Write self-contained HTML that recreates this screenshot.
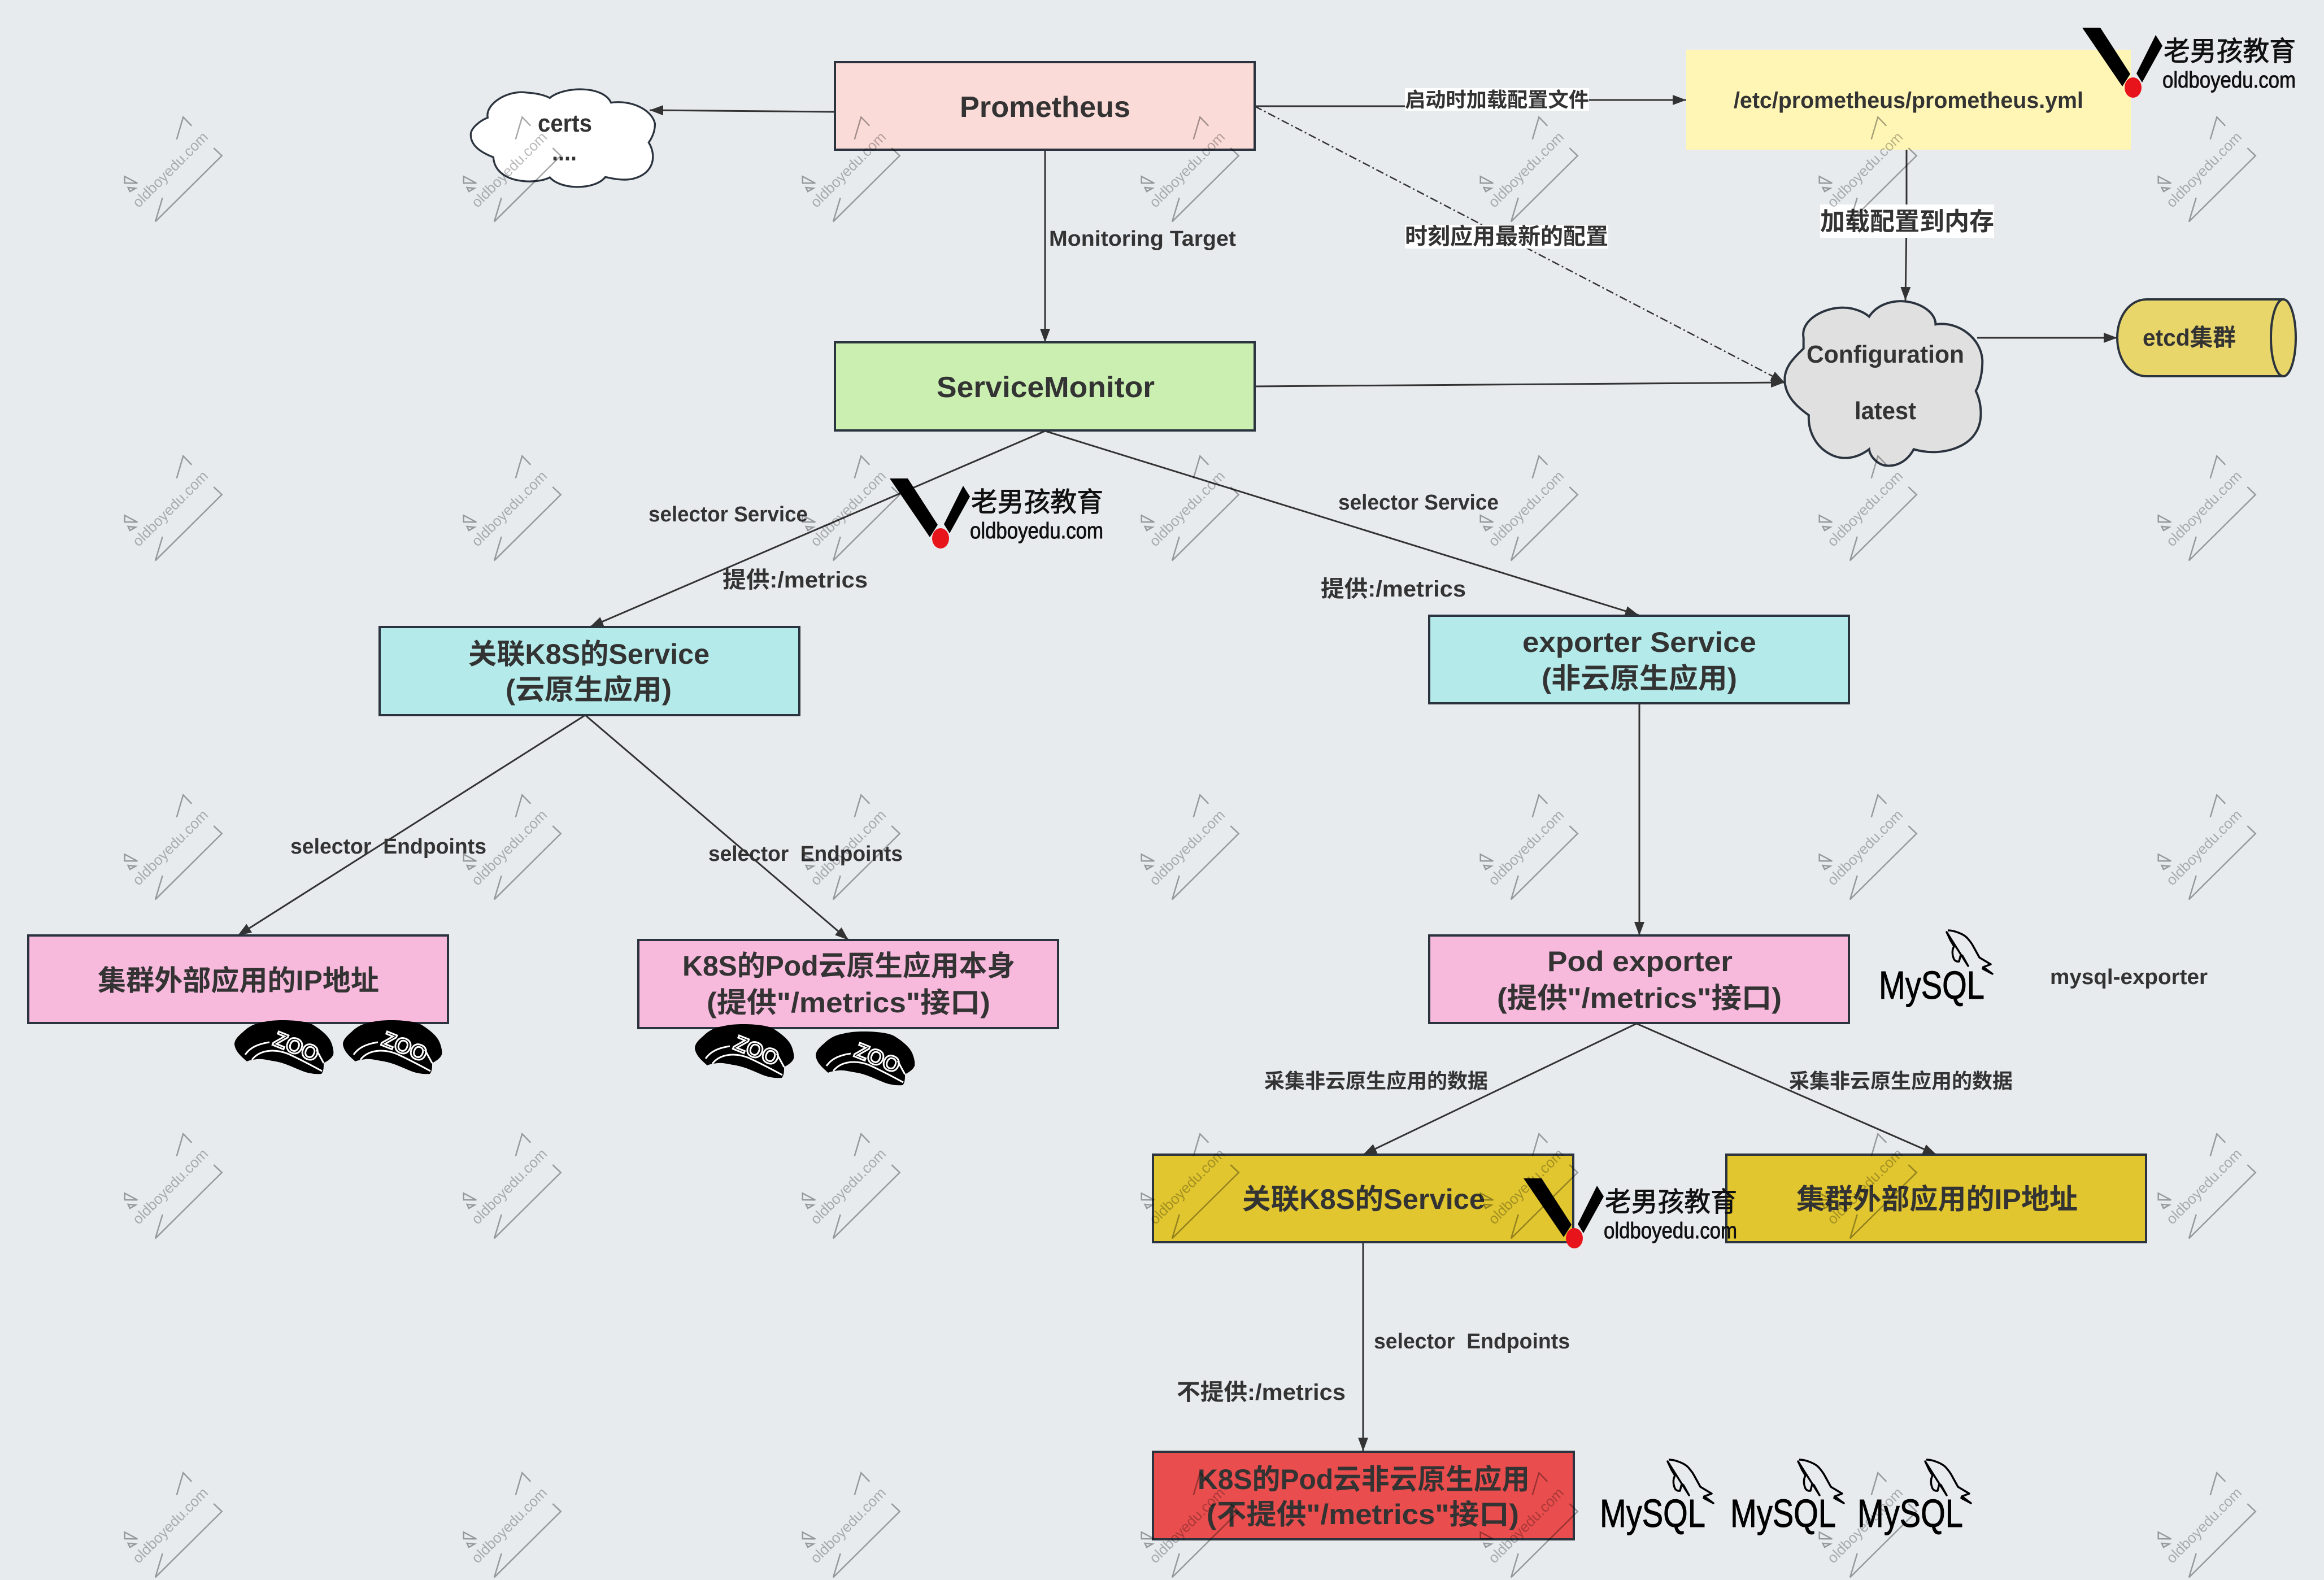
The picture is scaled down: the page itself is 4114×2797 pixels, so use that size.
<!DOCTYPE html>
<html><head><meta charset="utf-8"><title>Prometheus Diagram</title>
<style>
html,body{margin:0;padding:0;background:#e7ebee}
svg{display:block}
text{font-family:"Liberation Sans","Noto Sans CJK SC",sans-serif;font-weight:700;fill:#333}
.b{stroke:#2b343e;stroke-width:4}
.c{stroke:#333;stroke-width:3;fill:none}
.w{font-weight:400;font-size:26px;fill:#000;fill-opacity:.27;text-anchor:middle}
.lg{font-weight:400;fill:#111;stroke:#111;stroke-width:.9}
.my{font-weight:400;font-size:70px;fill:#000;stroke:#000;stroke-width:1}
</style></head><body>
<svg xmlns="http://www.w3.org/2000/svg" width="4114" height="2797" viewBox="0 0 4114 2797">
<defs>
<marker id="a" markerUnits="userSpaceOnUse" markerWidth="26" markerHeight="20" refX="24" refY="10" orient="auto"><path d="M0 1L24 10L0 19Z" fill="#333"/></marker>
<g id="wm" fill="none" stroke="#000" stroke-opacity=".35" stroke-width="2.5">
<path d="M312.7 246.7L324.3 207.3L339.3 222.7"/>
<path d="M378.3 262L392.7 275.7L275 392.3L287.7 350"/>
<path d="M220.7 312.3L243.3 324.3L220.7 324Z"/>
<path d="M226.7 332L240 333.3L230 339Z"/>
</g>
<g id="logo">
<path d="M0 0H32L85 82L71 104Z" fill="#000"/>
<path d="M130 13L142 32L106 97L96 81Z" fill="#000"/>
<ellipse cx="90" cy="106" rx="15" ry="18" fill="#e8141c"/>
</g>
<g id="hat">
<path d="M85 0C110 0 130 3 139 8C158 20 168 30 172 41C175 50 176 56 175 61C172 68 165 72 158 76C158 84 158 90 154 95C142 96 132 94 123 91C105 84 90 76 73 73C60 71 50 68 40 69C32 70 26 71 22 73C12 64 2 56 0 43C0 34 8 27 15 21C25 11 36 6 48 4C60 1 72 0 85 0Z" fill="#000"/>
<path d="M19 61C28 48 42 42 62 39" fill="none" stroke="#fff" stroke-width="3"/>
<path d="M31 70C45 52 72 50 96 60C118 70 140 82 155 90" fill="none" stroke="#fff" stroke-width="3"/>
<path d="M145 52L158 76" fill="none" stroke="#fff" stroke-width="3"/>
</g>
<path id="dol" d="M2 2Q10 2 18 5Q30 9 36 15Q44 24 47 30L58 50L78 62L65 67L81 79L64 70L65 66M38 65L28 47L25 45L22 57Q16 58 13 53Q9 44 11 35L13 30L7 20L0 5Z" fill="none" stroke="#000" stroke-width="3.5" stroke-linejoin="round"/>
</defs>
<rect width="4114" height="2797" fill="#e7ebee"/>

<!-- connectors -->
<path class="c" d="M1478 198L1150 195" marker-end="url(#a)"/>
<path class="c" d="M1850 265V606" marker-end="url(#a)"/>
<path class="c" d="M2221 188H2610V177H2985" marker-end="url(#a)"/>
<path d="M2221 188L3159 677" fill="none" stroke="#333" stroke-width="2.5" stroke-dasharray="14 5 3 5" marker-end="url(#a)"/>
<path class="c" d="M2221 684L3159 677" marker-end="url(#a)"/>
<path class="c" d="M3375 265V395L3373 532" marker-end="url(#a)"/>
<path class="c" d="M3500 598H3748" marker-end="url(#a)"/>
<path class="c" d="M1850 763L1044 1110" marker-end="url(#a)"/>
<path class="c" d="M1850 763L2901 1089" marker-end="url(#a)"/>
<path class="c" d="M1036 1266L421 1656" marker-end="url(#a)"/>
<path class="c" d="M1036 1266L1502 1664" marker-end="url(#a)"/>
<path class="c" d="M2902 1244V1656" marker-end="url(#a)"/>
<path class="c" d="M2897 1812L2413 2044" marker-end="url(#a)"/>
<path class="c" d="M2897 1812L3428 2044" marker-end="url(#a)"/>
<path class="c" d="M2413 2200V2569" marker-end="url(#a)"/>

<!-- boxes -->
<rect class="b" x="1478" y="110" width="743" height="155" fill="#fadbd8"/>
<rect class="b" x="1478" y="606" width="743" height="156" fill="#caefb1"/>
<rect class="b" x="672" y="1110" width="743" height="156" fill="#b5eaea"/>
<rect class="b" x="2530" y="1090" width="743" height="155" fill="#b5eaea"/>
<rect class="b" x="50" y="1656" width="743" height="155" fill="#f7b9dc"/>
<rect class="b" x="1130" y="1664" width="743" height="156" fill="#f7b9dc"/>
<rect class="b" x="2530" y="1656" width="743" height="155" fill="#f7b9dc"/>
<rect class="b" x="2041" y="2044" width="744" height="155" fill="#e1c62f"/>
<rect class="b" x="3056" y="2044" width="743" height="155" fill="#e1c62f"/>
<rect class="b" x="2041" y="2570" width="745" height="155" fill="#ea4d4d"/>
<rect x="2985" y="88" width="787" height="177" fill="#fff6b6"/>

<!-- clouds & cylinder -->
<g transform="translate(800,130) scale(.33333)">
<path d="M190 235C175 160 300 85 400 102C450 105 490 115 520 130C590 70 800 60 845 155C950 140 1060 190 1078 265C1080 310 1060 345 1045 367C1085 430 1080 530 960 560C910 570 860 560 815 550C760 620 580 620 520 552C450 590 230 590 220 445C130 410 100 370 100 325C100 290 150 250 190 235Z" fill="#fff" stroke="#2b343e" stroke-width="10"/>
</g>
<g transform="translate(2900,0) scale(.7742,.5485)">
<path d="M378 1090C370 1030 430 990 470 993C490 993 515 1005 528 1022C545 985 575 972 600 972C640 972 680 1005 680 1047C730 1035 785 1090 787 1165C787 1200 782 1235 772 1262C785 1300 790 1360 770 1400C750 1445 690 1475 630 1450C615 1490 590 1505 570 1503C550 1503 530 1475 528 1450C500 1480 470 1485 445 1470C405 1445 388 1390 390 1340C360 1310 335 1275 335 1225C335 1180 360 1150 378 1125Z" fill="#e0e0e0" stroke="#2b343e" stroke-width="4" vector-effect="non-scaling-stroke"/>
</g>
<path d="M4042 530H3800C3770 530 3748 560 3748 598C3748 636 3770 666 3800 666H4042Z" fill="#e8d66b" class="b"/>
<ellipse cx="4042" cy="598" rx="22" ry="68" fill="#e8d66b" class="b"/>

<!-- label backgrounds -->
<rect x="2487" y="156" width="326" height="40" fill="#fff"/>
<rect x="2487" y="398" width="360" height="42" fill="#fff"/>
<rect x="3222" y="362" width="308" height="59" fill="#fff"/>

<!-- box text -->
<text x="1699" y="207" font-size="52" textLength="302" lengthAdjust="spacingAndGlyphs">Prometheus</text>
<text x="1658" y="703" font-size="52" textLength="386" lengthAdjust="spacingAndGlyphs">ServiceMonitor</text>
<text x="829" y="1175" font-size="50" textLength="427" lengthAdjust="spacingAndGlyphs">关联K8S的Service</text>
<text x="895" y="1238" font-size="50" textLength="294" lengthAdjust="spacingAndGlyphs">(云原生应用)</text>
<text x="2695" y="1154" font-size="50" textLength="414" lengthAdjust="spacingAndGlyphs">exporter Service</text>
<text x="2729" y="1218" font-size="50" textLength="346" lengthAdjust="spacingAndGlyphs">(非云原生应用)</text>
<text x="173" y="1753" font-size="50" textLength="498" lengthAdjust="spacingAndGlyphs">集群外部应用的IP地址</text>
<text x="1208" y="1727" font-size="50" textLength="589" lengthAdjust="spacingAndGlyphs">K8S的Pod云原生应用本身</text>
<text x="1251" y="1792" font-size="50" textLength="502" lengthAdjust="spacingAndGlyphs">(提供"/metrics"接口)</text>
<text x="2739" y="1719" font-size="50" textLength="328" lengthAdjust="spacingAndGlyphs">Pod exporter</text>
<text x="2650" y="1784" font-size="50" textLength="504" lengthAdjust="spacingAndGlyphs">(提供"/metrics"接口)</text>
<text x="2199" y="2140" font-size="50" textLength="430" lengthAdjust="spacingAndGlyphs">关联K8S的Service</text>
<text x="3180" y="2140" font-size="50" textLength="498" lengthAdjust="spacingAndGlyphs">集群外部应用的IP地址</text>
<text x="2120" y="2636" font-size="50" textLength="588" lengthAdjust="spacingAndGlyphs">K8S的Pod云非云原生应用</text>
<text x="2136" y="2698" font-size="50" textLength="553" lengthAdjust="spacingAndGlyphs">(不提供"/metrics"接口)</text>
<text x="3069" y="191" font-size="40" textLength="619" lengthAdjust="spacingAndGlyphs">/etc/prometheus/prometheus.yml</text>
<text x="3198" y="642" font-size="44" textLength="279" lengthAdjust="spacingAndGlyphs">Configuration</text>
<text x="3283" y="742" font-size="44" textLength="109" lengthAdjust="spacingAndGlyphs">latest</text>
<text x="3793" y="612" font-size="42" textLength="165" lengthAdjust="spacingAndGlyphs">etcd集群</text>
<text x="952" y="233" font-size="44" textLength="96" lengthAdjust="spacingAndGlyphs">certs</text>
<text x="977" y="284" font-size="44" textLength="44" lengthAdjust="spacingAndGlyphs">....</text>

<!-- connector labels -->
<text x="1857" y="435" font-size="38" textLength="331" lengthAdjust="spacingAndGlyphs">Monitoring Target</text>
<text x="2487" y="189" font-size="36" textLength="326" lengthAdjust="spacingAndGlyphs">启动时加载配置文件</text>
<text x="2487" y="432" font-size="40" textLength="360" lengthAdjust="spacingAndGlyphs">时刻应用最新的配置</text>
<text x="3222" y="407" font-size="44" textLength="308" lengthAdjust="spacingAndGlyphs">加载配置到内存</text>
<text x="1148" y="923" font-size="38" textLength="282" lengthAdjust="spacingAndGlyphs">selector Service</text>
<text x="1279" y="1040" font-size="40" textLength="257" lengthAdjust="spacingAndGlyphs">提供:/metrics</text>
<text x="2369" y="902" font-size="38" textLength="284" lengthAdjust="spacingAndGlyphs">selector Service</text>
<text x="2338" y="1056" font-size="40" textLength="257" lengthAdjust="spacingAndGlyphs">提供:/metrics</text>
<text x="514" y="1511" font-size="38" textLength="347" lengthAdjust="spacingAndGlyphs" xml:space="preserve">selector  Endpoints</text>
<text x="1254" y="1524" font-size="38" textLength="344" lengthAdjust="spacingAndGlyphs" xml:space="preserve">selector  Endpoints</text>
<text x="2238" y="1926" font-size="36" textLength="396" lengthAdjust="spacingAndGlyphs">采集非云原生应用的数据</text>
<text x="3167" y="1926" font-size="36" textLength="396" lengthAdjust="spacingAndGlyphs">采集非云原生应用的数据</text>
<text x="2432" y="2387" font-size="38" textLength="347" lengthAdjust="spacingAndGlyphs" xml:space="preserve">selector  Endpoints</text>
<text x="2083" y="2478" font-size="40" textLength="299" lengthAdjust="spacingAndGlyphs">不提供:/metrics</text>
<text x="3629" y="1742" font-size="38" textLength="279" lengthAdjust="spacingAndGlyphs">mysql-exporter</text>

<!-- zookeeper hats -->
<g transform="translate(415,1806)"><use href="#hat"/><text x="68" y="56" font-size="38" style="fill:none;stroke:#fff;stroke-width:3" transform="rotate(22 100 45)">ZOO</text></g>
<g transform="translate(607,1806)"><use href="#hat"/><text x="68" y="56" font-size="38" style="fill:none;stroke:#fff;stroke-width:3" transform="rotate(22 100 45)">ZOO</text></g>
<g transform="translate(1230,1813)"><use href="#hat"/><text x="68" y="56" font-size="38" style="fill:none;stroke:#fff;stroke-width:3" transform="rotate(22 100 45)">ZOO</text></g>
<g transform="translate(1444,1826)"><use href="#hat"/><text x="68" y="56" font-size="38" style="fill:none;stroke:#fff;stroke-width:3" transform="rotate(22 100 45)">ZOO</text></g>

<!-- mysql -->
<g transform="translate(3326,1768)"><use href="#dol" x="120" y="-123"/><text class="my" x="0" y="0" textLength="187" lengthAdjust="spacingAndGlyphs">MySQL</text></g>
<g transform="translate(2832,2703)"><use href="#dol" x="120" y="-121"/><text class="my" x="0" y="0" textLength="187" lengthAdjust="spacingAndGlyphs">MySQL</text></g>
<g transform="translate(3063,2703)"><use href="#dol" x="120" y="-121"/><text class="my" x="0" y="0" textLength="187" lengthAdjust="spacingAndGlyphs">MySQL</text></g>
<g transform="translate(3288,2703)"><use href="#dol" x="120" y="-121"/><text class="my" x="0" y="0" textLength="187" lengthAdjust="spacingAndGlyphs">MySQL</text></g>

<!-- logos -->
<g transform="translate(3686,49)"><use href="#logo"/><text class="lg" x="144" y="58" font-size="48" textLength="234" lengthAdjust="spacingAndGlyphs">老男孩教育</text><text class="lg" x="142" y="106" font-size="40" textLength="236" lengthAdjust="spacingAndGlyphs">oldboyedu.com</text></g>
<g transform="translate(1575,847)"><use href="#logo"/><text class="lg" x="144" y="58" font-size="48" textLength="234" lengthAdjust="spacingAndGlyphs">老男孩教育</text><text class="lg" x="142" y="106" font-size="40" textLength="236" lengthAdjust="spacingAndGlyphs">oldboyedu.com</text></g>
<g transform="translate(2697,2086)"><use href="#logo"/><text class="lg" x="144" y="58" font-size="48" textLength="234" lengthAdjust="spacingAndGlyphs">老男孩教育</text><text class="lg" x="142" y="106" font-size="40" textLength="236" lengthAdjust="spacingAndGlyphs">oldboyedu.com</text></g>

<!-- watermarks -->
<g transform="translate(0,0)"><use href="#wm"/><text class="w" x="301.7" y="309" transform="rotate(-45 301.7 300.7)">oldboyedu.com</text></g>
<g transform="translate(600,0)"><use href="#wm"/><text class="w" x="301.7" y="309" transform="rotate(-45 301.7 300.7)">oldboyedu.com</text></g>
<g transform="translate(1200,0)"><use href="#wm"/><text class="w" x="301.7" y="309" transform="rotate(-45 301.7 300.7)">oldboyedu.com</text></g>
<g transform="translate(1800,0)"><use href="#wm"/><text class="w" x="301.7" y="309" transform="rotate(-45 301.7 300.7)">oldboyedu.com</text></g>
<g transform="translate(2400,0)"><use href="#wm"/><text class="w" x="301.7" y="309" transform="rotate(-45 301.7 300.7)">oldboyedu.com</text></g>
<g transform="translate(3000,0)"><use href="#wm"/><text class="w" x="301.7" y="309" transform="rotate(-45 301.7 300.7)">oldboyedu.com</text></g>
<g transform="translate(3600,0)"><use href="#wm"/><text class="w" x="301.7" y="309" transform="rotate(-45 301.7 300.7)">oldboyedu.com</text></g>
<g transform="translate(0,600)"><use href="#wm"/><text class="w" x="301.7" y="309" transform="rotate(-45 301.7 300.7)">oldboyedu.com</text></g>
<g transform="translate(600,600)"><use href="#wm"/><text class="w" x="301.7" y="309" transform="rotate(-45 301.7 300.7)">oldboyedu.com</text></g>
<g transform="translate(1200,600)"><use href="#wm"/><text class="w" x="301.7" y="309" transform="rotate(-45 301.7 300.7)">oldboyedu.com</text></g>
<g transform="translate(1800,600)"><use href="#wm"/><text class="w" x="301.7" y="309" transform="rotate(-45 301.7 300.7)">oldboyedu.com</text></g>
<g transform="translate(2400,600)"><use href="#wm"/><text class="w" x="301.7" y="309" transform="rotate(-45 301.7 300.7)">oldboyedu.com</text></g>
<g transform="translate(3000,600)"><use href="#wm"/><text class="w" x="301.7" y="309" transform="rotate(-45 301.7 300.7)">oldboyedu.com</text></g>
<g transform="translate(3600,600)"><use href="#wm"/><text class="w" x="301.7" y="309" transform="rotate(-45 301.7 300.7)">oldboyedu.com</text></g>
<g transform="translate(0,1200)"><use href="#wm"/><text class="w" x="301.7" y="309" transform="rotate(-45 301.7 300.7)">oldboyedu.com</text></g>
<g transform="translate(600,1200)"><use href="#wm"/><text class="w" x="301.7" y="309" transform="rotate(-45 301.7 300.7)">oldboyedu.com</text></g>
<g transform="translate(1200,1200)"><use href="#wm"/><text class="w" x="301.7" y="309" transform="rotate(-45 301.7 300.7)">oldboyedu.com</text></g>
<g transform="translate(1800,1200)"><use href="#wm"/><text class="w" x="301.7" y="309" transform="rotate(-45 301.7 300.7)">oldboyedu.com</text></g>
<g transform="translate(2400,1200)"><use href="#wm"/><text class="w" x="301.7" y="309" transform="rotate(-45 301.7 300.7)">oldboyedu.com</text></g>
<g transform="translate(3000,1200)"><use href="#wm"/><text class="w" x="301.7" y="309" transform="rotate(-45 301.7 300.7)">oldboyedu.com</text></g>
<g transform="translate(3600,1200)"><use href="#wm"/><text class="w" x="301.7" y="309" transform="rotate(-45 301.7 300.7)">oldboyedu.com</text></g>
<g transform="translate(0,1800)"><use href="#wm"/><text class="w" x="301.7" y="309" transform="rotate(-45 301.7 300.7)">oldboyedu.com</text></g>
<g transform="translate(600,1800)"><use href="#wm"/><text class="w" x="301.7" y="309" transform="rotate(-45 301.7 300.7)">oldboyedu.com</text></g>
<g transform="translate(1200,1800)"><use href="#wm"/><text class="w" x="301.7" y="309" transform="rotate(-45 301.7 300.7)">oldboyedu.com</text></g>
<g transform="translate(1800,1800)"><use href="#wm"/><text class="w" x="301.7" y="309" transform="rotate(-45 301.7 300.7)">oldboyedu.com</text></g>
<g transform="translate(2400,1800)"><use href="#wm"/><text class="w" x="301.7" y="309" transform="rotate(-45 301.7 300.7)">oldboyedu.com</text></g>
<g transform="translate(3000,1800)"><use href="#wm"/><text class="w" x="301.7" y="309" transform="rotate(-45 301.7 300.7)">oldboyedu.com</text></g>
<g transform="translate(3600,1800)"><use href="#wm"/><text class="w" x="301.7" y="309" transform="rotate(-45 301.7 300.7)">oldboyedu.com</text></g>
<g transform="translate(0,2400)"><use href="#wm"/><text class="w" x="301.7" y="309" transform="rotate(-45 301.7 300.7)">oldboyedu.com</text></g>
<g transform="translate(600,2400)"><use href="#wm"/><text class="w" x="301.7" y="309" transform="rotate(-45 301.7 300.7)">oldboyedu.com</text></g>
<g transform="translate(1200,2400)"><use href="#wm"/><text class="w" x="301.7" y="309" transform="rotate(-45 301.7 300.7)">oldboyedu.com</text></g>
<g transform="translate(1800,2400)"><use href="#wm"/><text class="w" x="301.7" y="309" transform="rotate(-45 301.7 300.7)">oldboyedu.com</text></g>
<g transform="translate(2400,2400)"><use href="#wm"/><text class="w" x="301.7" y="309" transform="rotate(-45 301.7 300.7)">oldboyedu.com</text></g>
<g transform="translate(3000,2400)"><use href="#wm"/><text class="w" x="301.7" y="309" transform="rotate(-45 301.7 300.7)">oldboyedu.com</text></g>
<g transform="translate(3600,2400)"><use href="#wm"/><text class="w" x="301.7" y="309" transform="rotate(-45 301.7 300.7)">oldboyedu.com</text></g>
</svg>
</body></html>
